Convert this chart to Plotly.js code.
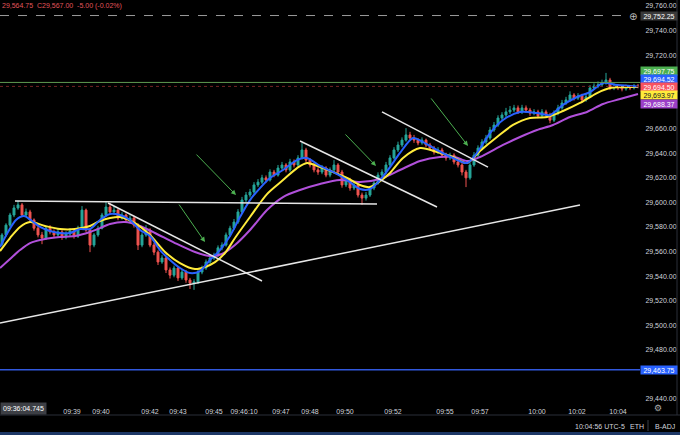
<!DOCTYPE html>
<html><head><meta charset="utf-8">
<script src="https://cdn.plot.ly/plotly-3.0.1.min.js"></script>
<style>html,body{margin:0;padding:0;background:#000;}#chart{width:680px;height:435px;}</style>
</head><body><div id="chart"></div>
<script>
const openP = [29566, 29573.5, 29581.5, 29589.75, 29595.5, 29598, 29589.75, 29592.25, 29585.75, 29579,
 29573.5, 29571, 29579, 29576, 29573.5, 29576, 29571.75, 29574.25, 29576.75, 29572.5,
 29579, 29593.75, 29577.5, 29565.25, 29573.5, 29579, 29589.75, 29596.25, 29592.25, 29593.75,
 29587.25, 29589.75, 29585.75, 29587.25, 29581.5, 29565.25, 29573.5, 29577.5, 29565.25, 29559.5,
 29551.5, 29554.75, 29545, 29540.75, 29546.5, 29538.5, 29543.25, 29536.75, 29534.25, 29535.25,
 29543.25, 29546.5, 29551.5, 29554.75, 29557, 29563, 29565.25, 29573.5, 29579, 29584,
 29592.25, 29602, 29606, 29608.5, 29614.25, 29616.5, 29620, 29618.25, 29624.75, 29622.25,
 29628, 29630.5, 29626.5, 29633, 29630.5, 29636.25, 29642.75, 29634.5, 29630.5, 29626.5,
 29624.75, 29628, 29622.25, 29626.5, 29630.5, 29624.75, 29614.25, 29618.25, 29611.75, 29614.25,
 29606, 29603.5, 29606, 29611.75, 29615.75, 29622.25, 29624.75, 29630.5, 29636.25, 29642.75,
 29646.75, 29650.75, 29655, 29652.5, 29650.75, 29648.5, 29650.75, 29646.75, 29644.25, 29641,
 29642.75, 29638.5, 29636.25, 29638.5, 29633, 29630.5, 29624.75, 29620, 29630.5, 29638.5,
 29644.25, 29649.25, 29652.5, 29659, 29663, 29668.75, 29671.25, 29673.75, 29675.25, 29677,
 29673.75, 29677, 29675.25, 29672.75, 29673.75, 29670.5, 29673.75, 29671.25, 29667, 29672.75,
 29677, 29681, 29683.5, 29687.5, 29685, 29686.75, 29683.5, 29686, 29693.25, 29694.75,
 29695.75, 29697.25, 29699.75, 29693.25, 29694.75, 29693.25, 29692.5, 29694, 29693.25, 29694.75];
const highP = [29575, 29583, 29591.5, 29598, 29601.25, 29599.5, 29595, 29594, 29587, 29581,
 29576, 29581, 29581.5, 29578, 29578.5, 29577.5, 29576.5, 29579, 29578, 29581,
 29597, 29595, 29579, 29575, 29581, 29591.5, 29601, 29599.5, 29597, 29595,
 29592, 29591, 29589.5, 29589, 29583, 29575.5, 29581.5, 29579, 29567, 29561,
 29557, 29556, 29547, 29548.5, 29548, 29545.5, 29545, 29538.5, 29537.5, 29545,
 29548.5, 29553.5, 29557, 29559, 29565, 29567.5, 29575.5, 29581, 29586.5, 29594.5,
 29604.5, 29608.5, 29611, 29616.5, 29619, 29622.5, 29622, 29627, 29626.5, 29630.5,
 29633, 29632, 29635.5, 29635, 29638.5, 29648.5, 29644.5, 29636, 29632, 29628.5,
 29630.5, 29629.5, 29628.5, 29634.5, 29632, 29626.5, 29620.5, 29620, 29616.5, 29615.5,
 29608, 29608.5, 29613.5, 29618, 29624.5, 29627, 29633, 29638.5, 29645, 29649.5,
 29653, 29660.5, 29657.5, 29655, 29652.5, 29653, 29652, 29648.5, 29646, 29645,
 29644.5, 29640.5, 29640.5, 29640, 29635, 29632, 29626.5, 29632.5, 29641, 29646.5,
 29651.5, 29655, 29661.5, 29665.5, 29671, 29673.5, 29677, 29678.5, 29679.5, 29679,
 29679.5, 29679, 29677, 29676, 29675.5, 29676, 29675.5, 29673, 29675, 29679.5,
 29683.5, 29686, 29690.5, 29689, 29689, 29688.5, 29688.5, 29695.5, 29697, 29698.5,
 29700, 29705.5, 29701.5, 29697, 29696.5, 29695, 29696, 29695.5, 29696.5, 29696.5];
const lowP = [29564.5, 29572, 29580, 29588, 29594, 29588, 29588.5, 29584, 29577, 29571.5,
 29566, 29569.5, 29574, 29571, 29572, 29569.5, 29570, 29572.5, 29570.5, 29571,
 29578, 29576, 29559.5, 29563.5, 29572, 29578, 29588.5, 29590.5, 29590, 29585.5,
 29586, 29584, 29584, 29579.5, 29561.25, 29563.5, 29572, 29563.5, 29557, 29549,
 29550, 29542.5, 29538, 29539, 29536, 29537, 29534.5, 29529.5, 29528.75, 29533.5,
 29541.5, 29545, 29550, 29553, 29555.5, 29561, 29564, 29572, 29577.5, 29582.5,
 29591, 29600, 29604, 29607, 29612.5, 29615, 29616, 29617, 29620.5, 29621,
 29626.5, 29624.5, 29625, 29628.5, 29629, 29635, 29632.5, 29628.5, 29624.5, 29622.5,
 29623, 29620.5, 29620.5, 29625, 29623, 29612, 29612.5, 29609.5, 29610, 29604,
 29598, 29601.5, 29604.5, 29610, 29614.5, 29620.5, 29623, 29629, 29635, 29641,
 29645, 29649.5, 29650.5, 29648.5, 29646.5, 29647, 29645, 29642.5, 29639, 29639.5,
 29636.5, 29634, 29634.5, 29631, 29628.5, 29622, 29612.5, 29618.5, 29629, 29637,
 29642.5, 29647.5, 29651, 29657.5, 29661.5, 29667, 29669.5, 29672, 29673.5, 29672,
 29672, 29673, 29670.5, 29671, 29668.5, 29669, 29669, 29664.5, 29665.5, 29671,
 29675.5, 29679.5, 29682, 29683, 29683.5, 29681.5, 29682, 29685, 29691.5, 29693,
 29694, 29696, 29691.5, 29691.5, 29691.5, 29690.5, 29691, 29691.5, 29692, 29693];
const closeP = [29573.5, 29581.5, 29589.75, 29595.5, 29598, 29589.75, 29592.25, 29585.75, 29579, 29573.5,
 29571, 29579, 29576, 29573.5, 29576, 29571.75, 29574.25, 29576.75, 29572.5, 29579,
 29593.75, 29577.5, 29565.25, 29573.5, 29579, 29589.75, 29596.25, 29592.25, 29593.75, 29587.25,
 29589.75, 29585.75, 29587.25, 29581.5, 29565.25, 29573.5, 29577.5, 29565.25, 29559.5, 29551.5,
 29554.75, 29545, 29540.75, 29546.5, 29538.5, 29543.25, 29536.75, 29534.25, 29535.25, 29543.25,
 29546.5, 29551.5, 29554.75, 29557, 29563, 29565.25, 29573.5, 29579, 29584, 29592.25,
 29602, 29606, 29608.5, 29614.25, 29616.5, 29620, 29618.25, 29624.75, 29622.25, 29628,
 29630.5, 29626.5, 29633, 29630.5, 29636.25, 29642.75, 29634.5, 29630.5, 29626.5, 29624.75,
 29628, 29622.25, 29626.5, 29630.5, 29624.75, 29614.25, 29618.25, 29611.75, 29614.25, 29606,
 29603.5, 29606, 29611.75, 29615.75, 29622.25, 29624.75, 29630.5, 29636.25, 29642.75, 29646.75,
 29650.75, 29655, 29652.5, 29650.75, 29648.5, 29650.75, 29646.75, 29644.25, 29641, 29642.75,
 29638.5, 29636.25, 29638.5, 29633, 29630.5, 29624.75, 29620, 29630.5, 29638.5, 29644.25,
 29649.25, 29652.5, 29659, 29663, 29668.75, 29671.25, 29673.75, 29675.25, 29677, 29673.75,
 29677, 29675.25, 29672.75, 29673.75, 29670.5, 29673.75, 29671.25, 29667, 29672.75, 29677,
 29681, 29683.5, 29687.5, 29685, 29686.75, 29683.5, 29686, 29693.25, 29694.75, 29695.75,
 29697.25, 29699.75, 29693.25, 29694.75, 29693.25, 29692.5, 29694, 29693.25, 29694.75, 29694.5];

const tickIdx = [17.5, 24.75, 37, 44, 53, 60.5, 69.75, 77, 85.75, 97.75, 110.75, 119.5, 133.75, 143.75, 154];
const tickLabels = ['09:39','09:40','09:42','09:43','09:45','09:46:10','09:47','09:48','09:50','09:52','09:55','09:57','10:00','10:02','10:04'];
const yTicks = [29440, 29480, 29500, 29520, 29540, 29560, 29580, 29600, 29620, 29640, 29660, 29720, 29740, 29760];

const blueX = [-0.5,1.5,3.5,5.5,7.5,9.5,12,14.5,17,19.5,22,24.5,27,29.5,32,34.5,37,39.5,42,44.5,47,49.5,52,54.5,57,59.5,62,64.5,67,70.25,73.75,76.25,79.5,82.75,86.25,89.5,92,94.5,97,99.5,102.75,105.25,108.75,112.75,116.25,118.75,122,125.25,129.5,133.75,137,140.25,143.75,147,150.25,153.75,159];
const blueY = [29563.7,29575.9,29585.7,29588.9,29584.9,29580.0,29576.7,29575.1,29575.1,29578.3,29578.3,29585.7,29590.6,29589.7,29585.7,29577.5,29572.6,29561.2,29553.1,29546.6,29542.5,29544.1,29553.1,29561.2,29572.6,29588.1,29601.9,29611.7,29619.9,29626.4,29634.5,29636.2,29629.7,29624.8,29618.2,29610.9,29610.9,29618.2,29628.8,29640.3,29652.5,29649.2,29642.7,29636.2,29632.1,29640.3,29656.5,29667.1,29673.7,29672.8,29671.2,29679.4,29685.9,29689.9,29697.3,29695.6,29694.52];
const yellowX = [-0.5,2,4.5,7,10.75,14.5,18.25,22,24.5,27,29.5,33.25,37,40.75,44.5,48.25,50.75,53.25,55.75,58.25,62,66.25,70.25,73.75,76.25,79.5,82.75,86.25,89.5,92,94.5,97,100.25,104.5,108.75,112.75,116.25,119.5,123.75,127.75,132,136.25,140.25,144.5,148.75,152,159];
const yellowY = [29560.4,29571.0,29580.0,29584.0,29580.8,29578.3,29578.3,29580.8,29584.9,29587.3,29588.1,29583.2,29573.4,29559.6,29550.6,29545.7,29547.4,29551.4,29558.8,29571.0,29588.1,29606.8,29618.2,29628.0,29632.1,29628.8,29624.8,29619.9,29614.2,29612.5,29617.4,29624.0,29636.2,29644.3,29641.1,29637.0,29632.1,29641.9,29653.3,29663.1,29668.8,29669.6,29674.5,29681.0,29689.1,29693.2,29693.97];
const purpleX = [-0.5,2,4.5,7,10.75,14.5,18.25,22,24.5,27,30.75,34.5,38.25,43.25,48.25,52,55,58.25,62,66.25,70.25,74.5,79.5,84.5,89.5,94.5,99.5,104.5,109.5,113.25,116.25,119.5,125.25,129.5,133.75,137.75,142,146.25,150.25,154.5,159];
const purpleY = [29546.6,29553.9,29561.2,29566.9,29570.2,29571.8,29572.6,29575.9,29579.1,29582.4,29584.0,29580.8,29575.1,29566.9,29559.6,29556.3,29558.0,29565.3,29577.5,29593.8,29604.4,29610.1,29615.0,29618.2,29616.6,29619.1,29626.4,29633.7,29637.0,29637.0,29633.7,29637.0,29646.8,29653.3,29659.0,29663.1,29669.6,29673.7,29680.2,29684.2,29688.37];

const trendLines = [[3.25,29601.1,93.75,29598.7],[26.5,29599.5,65,29536.0],[-0.5,29501.7,144.5,29597.9],[74.5,29650.0,108.75,29596.3],[95,29673.7,121.5,29628.8]];
const arrowTips = [[50.75,29567.7,-27,-39],[58.5,29606.0,-41,-42],[93.5,29629.7,-32,-33],[116.5,29646.0,-38,-49]];

const greenLevel = 29697.75;
const alertLevel = 29752.25;
const blueLevel = 29463.75;
const headerText = '29,564.75  C29,567.00  -5.00 (-0.02%)';
const crossTime = '09:36:04.745';

const FONT = 'Liberation Sans, Arial, sans-serif';
const fmt = v => v.toLocaleString('en-US', {minimumFractionDigits: 2, maximumFractionDigits: 2});
const idx = closeP.map((_, i) => i);
const plotH = 403;
const py = px => 1 - px / plotH;

const traces = [
  {type: 'candlestick', x: idx, open: openP, high: highP, low: lowP, close: closeP,
   increasing: {line: {color: '#26a69a', width: 1}, fillcolor: '#26a69a'},
   decreasing: {line: {color: '#ef5350', width: 1}, fillcolor: '#ef5350'},
   whiskerwidth: 0, hoverinfo: 'skip'},
  {type: 'scatter', mode: 'lines', x: purpleX, y: purpleY, line: {color: '#b150db', width: 2, shape: 'spline', smoothing: 0.8}, hoverinfo: 'skip'},
  {type: 'scatter', mode: 'lines', x: yellowX, y: yellowY, line: {color: '#ffeb3b', width: 2, shape: 'spline', smoothing: 0.8}, hoverinfo: 'skip'},
  {type: 'scatter', mode: 'lines', x: blueX, y: blueY, line: {color: '#2962ff', width: 2, shape: 'spline', smoothing: 0.8}, hoverinfo: 'skip'}
];

const shapes = [
  {type: 'line', xref: 'paper', yref: 'y', x0: 0, x1: 0.982, y0: alertLevel, y1: alertLevel, line: {color: '#9a9a9a', width: 1, dash: 'dash'}},
  {type: 'line', xref: 'paper', yref: 'y', x0: 0, x1: 1, y0: greenLevel, y1: greenLevel, line: {color: '#5f9a52', width: 1}},
  {type: 'line', xref: 'paper', yref: 'y', x0: 0, x1: 1, y0: closeP[closeP.length-1], y1: closeP[closeP.length-1], line: {color: '#6e2424', width: 1, dash: 'dot'}},
  {type: 'line', xref: 'paper', yref: 'y', x0: 0, x1: 1, y0: blueLevel, y1: blueLevel, line: {color: '#3158dd', width: 1.5}},
  {type: 'line', xref: 'paper', yref: 'paper', x0: 0, x1: 1.07, y0: py(415), y1: py(415), line: {color: '#2a2e39', width: 1}},
  {type: 'line', xref: 'paper', yref: 'paper', x0: 677/640, x1: 677/640, y0: 1, y1: py(415), line: {color: '#2a2e39', width: 1}},
  {type: 'line', xref: 'paper', yref: 'paper', x0: 648/640, x1: 648/640, y0: py(420), y1: py(431), line: {color: '#3a3e49', width: 1}},
  {type: 'rect', xref: 'paper', yref: 'paper', x0: 0, x1: 1.07, y0: py(432), y1: py(436), fillcolor: '#1d3766', line: {width: 0}}
];
trendLines.forEach(t => shapes.push({type: 'line', xref: 'x', yref: 'y', x0: t[0], y0: t[1], x1: t[2], y1: t[3], line: {color: '#e6e6e6', width: 1.5}}));

const annotations = [];
arrowTips.forEach(a => annotations.push({xref: 'x', yref: 'y', x: a[0], y: a[1], ax: a[2], ay: a[3], text: '', showarrow: true, arrowhead: 2, arrowsize: 1, arrowwidth: 1, arrowcolor: '#4caf50'}));

const tag = (text, ypx, bg, fg) => ({xref: 'paper', yref: 'paper', x: 1, y: py(ypx), xanchor: 'left', yanchor: 'middle', text: text, showarrow: false, bgcolor: bg, width: 36, height: 8, borderpad: 0, font: {family: FONT, size: 7, color: fg}});
annotations.push(tag(fmt(alertLevel), 16, '#3a3a3a', '#ffffff'));
annotations.push(tag(fmt(greenLevel), 70.5, '#4caf50', '#ffffff'));
annotations.push(tag(fmt(blueY[blueY.length-1]), 79, '#2962ff', '#ffffff'));
annotations.push(tag(fmt(closeP[closeP.length-1]), 87, '#f7525f', '#ffffff'));
annotations.push(tag(fmt(yellowY[yellowY.length-1]), 95.5, '#ffeb3b', '#131722'));
annotations.push(tag(fmt(purpleY[purpleY.length-1]), 104, '#9c3fc8', '#ffffff'));
annotations.push(tag(fmt(blueLevel), 369.6, '#2962ff', '#ffffff'));

annotations.push({xref: 'paper', yref: 'paper', x: 633/640, y: py(16), xanchor: 'center', yanchor: 'middle', text: '⊕', showarrow: false, font: {family: 'DejaVu Sans', size: 10, color: '#bbbbbb'}});
annotations.push({xref: 'paper', yref: 'paper', x: 658/640, y: py(408), xanchor: 'center', yanchor: 'middle', text: '⚙', showarrow: false, font: {family: 'DejaVu Sans', size: 9, color: '#aaaaaa'}});
annotations.push({xref: 'paper', yref: 'paper', x: 0, y: py(6), xanchor: 'left', yanchor: 'middle', text: headerText, showarrow: false, font: {family: FONT, size: 7, color: '#e0555b'}});
annotations.push({xref: 'paper', yref: 'paper', x: 0, y: py(408), xanchor: 'left', yanchor: 'middle', text: crossTime, showarrow: false, bgcolor: '#3d3f45', borderpad: 2, font: {family: FONT, size: 7, color: '#ffffff'}});
annotations.push({xref: 'paper', yref: 'paper', x: 573/640, y: py(426), xanchor: 'left', yanchor: 'middle', text: '10:04:56 UTC-5', showarrow: false, font: {family: FONT, size: 7, color: '#d1d4dc'}});
annotations.push({xref: 'paper', yref: 'paper', x: 628/640, y: py(426), xanchor: 'left', yanchor: 'middle', text: 'ETH', showarrow: false, font: {family: FONT, size: 7, color: '#d1d4dc'}});
annotations.push({xref: 'paper', yref: 'paper', x: 653/640, y: py(426), xanchor: 'left', yanchor: 'middle', text: 'B-ADJ', showarrow: false, font: {family: FONT, size: 7, color: '#d1d4dc'}});

const layout = {
  width: 680, height: 435,
  margin: {l: 0, r: 40, t: 0, b: 32, pad: 0},
  paper_bgcolor: '#000000', plot_bgcolor: '#000000',
  showlegend: false, hovermode: false, dragmode: false,
  xaxis: {range: [-0.5, 159.5], tickmode: 'array', tickvals: tickIdx, ticktext: tickLabels, showgrid: false, zeroline: false, showline: false,
          ticks: 'outside', ticklen: 2, tickcolor: 'rgba(0,0,0,0)', tickfont: {family: FONT, size: 7, color: '#d1d4dc'}, rangeslider: {visible: false}, fixedrange: true},
  yaxis: {side: 'right', range: [29436.6, 29764.9], tickmode: 'array', tickvals: yTicks, tickformat: ',.2f', showgrid: false, zeroline: false, showline: false,
          ticks: 'outside', ticklen: 3, tickcolor: 'rgba(0,0,0,0)', tickfont: {family: FONT, size: 7, color: '#d1d4dc'}, fixedrange: true},
  shapes: shapes, annotations: annotations
};

Plotly.newPlot('chart', traces, layout, {displayModeBar: false, staticPlot: true});
</script></body></html>
